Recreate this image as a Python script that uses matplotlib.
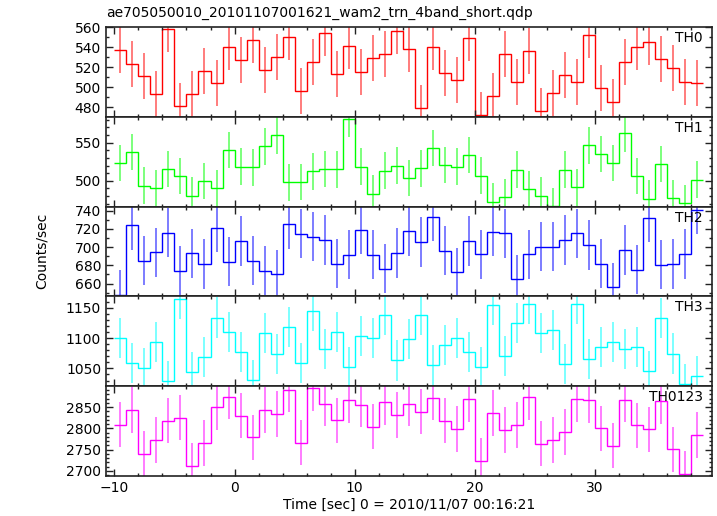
import numpy as np
import matplotlib
matplotlib.use("Agg")
import matplotlib.pyplot as plt
from matplotlib.ticker import MultipleLocator

# light curve, 1 s bins from -10 to 39 s
edges = np.arange(-10, 40)
centers = edges[:-1] + 0.5

th0 = [537.5, 523.4, 511.0, 492.8, 558.3, 481.0, 492.8, 516.3, 503.9, 540.2,
       527.0, 547.6, 517.3, 530.4, 550.3, 495.8, 525.0, 554.6, 513.3, 541.5,
       515.0, 529.1, 533.5, 556.0, 538.5, 479.0, 540.2, 514.0, 507.2, 549.6,
       472.0, 490.8, 533.1, 504.9, 536.5, 475.7, 494.1, 512.0, 504.9, 552.3,
       499.2, 484.7, 525.0, 540.2, 545.2, 528.4, 519.3, 504.9, 504.2]
th1 = [523.6, 537.7, 493.6, 490.5, 515.5, 506.4, 480.5, 499.5, 490.0, 540.5,
       518.6, 517.7, 545.0, 559.5, 497.7, 498.2, 512.3, 515.5, 515.0, 581.4,
       518.6, 483.2, 513.2, 520.0, 503.6, 516.4, 542.7, 520.5, 518.6, 534.0,
       506.8, 472.7, 478.2, 514.5, 489.0, 480.5, 467.0, 514.5, 491.4, 546.4,
       535.0, 523.2, 562.3, 506.4, 476.4, 521.8, 476.8, 470.9, 501.4]
th2 = [647.8, 723.8, 685.1, 694.3, 716.0, 674.0, 693.2, 681.4, 721.2, 684.0,
       706.8, 685.1, 674.0, 670.0, 725.3, 714.6, 711.6, 707.9, 681.7, 691.7,
       719.0, 691.7, 676.2, 693.5, 717.5, 705.7, 733.4, 696.1, 672.5, 706.8,
       692.1, 716.8, 715.3, 664.8, 692.1, 700.6, 700.6, 707.9, 715.3, 702.4,
       681.7, 655.9, 696.9, 675.1, 732.3, 680.6, 681.4, 692.4, 741.0]
th3 = [1100.0, 1059.2, 1050.0, 1094.0, 1029.9, 1163.6, 1044.6, 1068.5, 1133.7, 1110.3,
       1077.2, 1031.0, 1107.6, 1073.4, 1117.4, 1058.7, 1144.6, 1081.5, 1109.2, 1052.2,
       1102.7, 1099.5, 1138.6, 1063.0, 1097.8, 1138.0, 1054.9, 1088.0, 1100.0, 1077.7,
       1052.2, 1154.9, 1070.1, 1125.0, 1156.0, 1107.6, 1112.5, 1056.5, 1156.5, 1065.2,
       1084.8, 1094.0, 1082.6, 1084.8, 1045.6, 1133.2, 1074.5, 1024.5, 1037.5]
th0123 = [2808.6, 2843.0, 2740.6, 2772.7, 2818.0, 2825.0, 2711.7, 2765.6, 2850.0, 2874.2,
          2829.7, 2778.9, 2843.0, 2833.6, 2890.6, 2766.4, 2894.5, 2857.8, 2818.7, 2866.4,
          2855.5, 2803.9, 2861.7, 2831.2, 2857.8, 2839.0, 2871.9, 2818.0, 2798.4, 2868.8,
          2724.2, 2835.9, 2796.1, 2807.8, 2873.4, 2764.1, 2772.7, 2791.4, 2868.8, 2866.4,
          2800.0, 2759.4, 2867.2, 2807.0, 2797.7, 2863.3, 2750.8, 2693.8, 2784.4]

bands = ["TH0", "TH1", "TH2", "TH3", "TH0123"]
series = [th0, th1, th2, th3, th0123]
errors = [23, 24, 27, 33, 53]
colors = ["#ff0000", "#00ff00", "#0000ff", "#00ffff", "#ff00ff"]
ylims = [(470.3, 560.3), (466, 584), (646, 744.4), (1020.7, 1168.5), (2688, 2899)]
ymajor = [20, 50, 20, 50, 50]

plt.rcParams["font.family"] = "DejaVu Sans"
plt.rcParams["font.size"] = 10

fig, axes = plt.subplots(5, 1, sharex=True, figsize=(7.17, 5.16), dpi=100)
fig.subplots_adjust(left=106/717, right=712/717, top=1-27/516, bottom=1-476/516, hspace=0)

for ax, name, y, err, c, yl, ym in zip(axes, bands, series, errors, colors, ylims, ymajor):
    ax.stairs(y, edges, color=c, lw=1.0, baseline=None)
    ax.errorbar(centers, y, yerr=err, fmt="none", ecolor=c, elinewidth=1.2, alpha=0.6)
    ax.set_ylim(*yl)
    ax.yaxis.set_major_locator(MultipleLocator(ym))
    ax.yaxis.set_minor_locator(MultipleLocator(10))
    ax.xaxis.set_major_locator(MultipleLocator(10))
    ax.xaxis.set_minor_locator(MultipleLocator(2))
    ax.tick_params(which="both", direction="in", top=True, right=True, colors="#222222",
                   labelcolor="black", width=1.0)
    ax.tick_params(which="major", length=5)
    ax.tick_params(which="minor", length=2.5)
    for s in ax.spines.values():
        s.set_color("#222222"); s.set_linewidth(1.2)
    ax.text(0.985, 0.955, name, transform=ax.transAxes, ha="right", va="top")

axes[-1].set_xlim(-10.7, 39.75)
axes[-1].set_xlabel("Time [sec] 0 = 2010/11/07 00:16:21", labelpad=2)
fig.text(0.058, 0.513, "Counts/sec", rotation=90, ha="center", va="center")
fig.text(106/717, 1-13/516, "ae705050010_20101107001621_wam2_trn_4band_short.qdp",
         ha="left", va="center")

fig.savefig("out.png")
